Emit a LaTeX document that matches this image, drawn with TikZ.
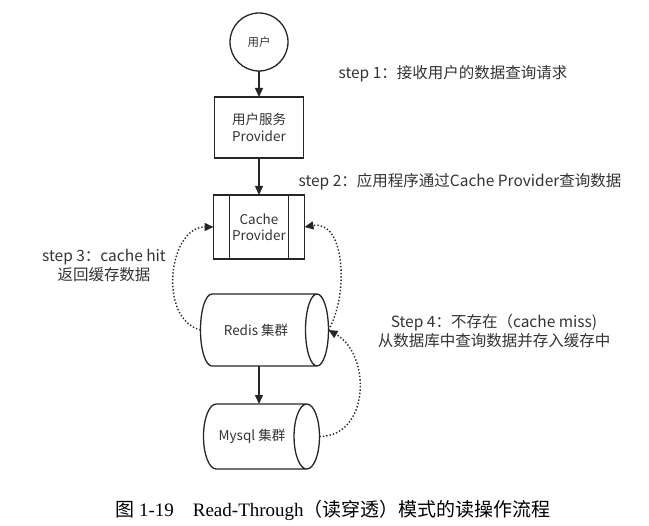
\documentclass[tikz,border=0pt]{standalone}
\usepackage{fontspec}
\setmainfont{Liberation Serif}
\newfontfamily\cjk{Noto Sans CJK SC}
\usetikzlibrary{positioning,shapes.geometric,arrows.meta}

\tikzstyle{user} = [circle, minimum size=58pt, outer sep=0pt, draw=black!85, line width=1.3pt, text=black!80, font=\cjk\fontsize{11.5}{13}\selectfont]
\tikzstyle{process} = [rectangle, minimum width=89pt, minimum height=61pt, outer sep=0pt, align=center, draw=black!85, line width=1.3pt, text=black!80, font=\cjk\fontsize{13.5}{16.5}\selectfont]
\tikzstyle{cluster} = [cylinder, shape aspect=1.2, minimum height=128pt, minimum width=72pt, outer sep=0pt, draw=black!85, line width=1.3pt, text=black!80, font=\cjk\fontsize{13.5}{16}\selectfont]
\tikzstyle{steptext} = [align=center, text=black!80, font=\cjk\fontsize{15.5}{19}\selectfont]
\tikzstyle{arrow} = [line width=1.3pt, draw=black!85, ->, >={Triangle[length=9pt,width=8pt]}]
\tikzstyle{dotarrow} = [line width=1.4pt, draw=black!85, dotted, ->, >={Triangle[length=9pt,width=8pt]}]

\begin{document}
\begin{tikzpicture}[x=1pt,y=-1pt]
\useasboundingbox (0,0) rectangle (649,526);
\node (user) [user] at (259,42) {用户};
\node (svc) [process, below=26pt of user] {用户服务\\Provider};
\node (cache) [process, minimum width=91pt, minimum height=64pt, below=37pt of svc] {Cache\\Provider};
\draw [line width=1.3pt, draw=black!85] ([xshift=16pt]cache.north west) -- ([xshift=16pt]cache.south west)
  ([xshift=-16pt]cache.north east) -- ([xshift=-16pt]cache.south east);
\node (redis) [cluster, below=35pt of cache, xshift=-3pt] {Redis 集群};
\node (mysql) [cluster, minimum height=116pt, minimum width=65pt, below=38pt of redis, xshift=-4pt] {Mysql 集群};

\draw [arrow] (user) -- (svc);
\draw [arrow] (svc) -- (cache);
\draw [arrow] (redis.south -| svc.south) -- (mysql.north -| svc.south);

\draw [dotarrow] (redis.west) to[out=165,in=180,looseness=1.1] (cache.west);
\draw [dotarrow] (mysql.east) to[out=0,in=-30,looseness=1.2] (redis.east);
\draw [dotarrow] (redis.east) to[out=60,in=10] (cache.east);

\node (s1) [steptext] at (453,74) {step 1：接收用户的数据查询请求};
\node (s2) [steptext] at (460,182) {step 2：应用程序通过Cache Provider查询数据};
\node (s3) [steptext] at (104,265) {step 3：cache hit\\返回缓存数据};
\node (s4) [steptext] at (494,331) {Step 4：不存在（cache miss)\\从数据库中查询数据并存入缓存中};

\node (cap) [font=\fontsize{19}{22}\selectfont] at (333,510) {{\cjk 图}\ 1-19\quad Read-Through{\cjk （读穿透）模式的读操作流程}};
\end{tikzpicture}
\end{document}
